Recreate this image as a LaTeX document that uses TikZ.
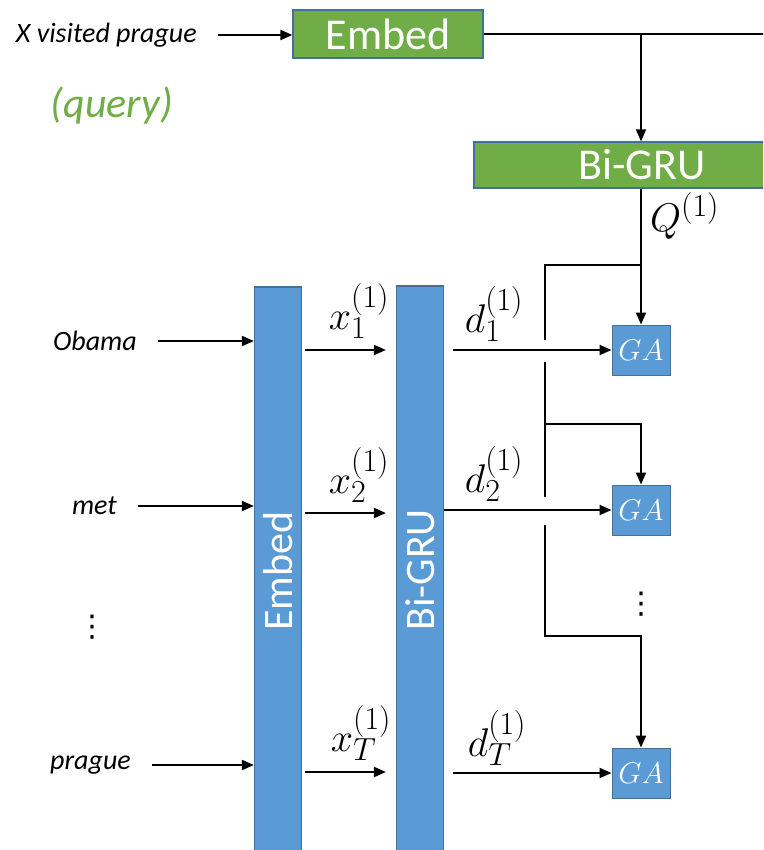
\RequirePackage{fix-cm}
\documentclass[tikz,border=0pt]{standalone}
\usepackage{fontspec}
\setmainfont{Carlito}
\newfontfamily\dejavu{DejaVu Sans}
\DeclareMathSizes{40}{40}{32}{26}
\usetikzlibrary{positioning,arrows.meta,calc}

\definecolor{gafill}{HTML}{5B9BD5}
\definecolor{grfill}{HTML}{70AD47}
\definecolor{boxedge}{HTML}{41719C}

\begin{document}
\begin{tikzpicture}[x=1pt, y=-1pt,
  gbox/.style={draw=boxedge, line width=1.2pt, fill=grfill, text=white, inner sep=0pt, font=\fontsize{44}{48}\selectfont},
  bar/.style={draw=boxedge, line width=1.2pt, fill=gafill, inner sep=0pt, minimum width=47pt, minimum height=568pt},
  barlbl/.style={rotate=90, text=white, font=\fontsize{42}{46}\selectfont},
  gabox/.style={draw=boxedge, line width=1pt, fill=gafill, text=white, inner sep=0pt, minimum width=58pt, minimum height=50pt, font=\fontsize{30}{34}\selectfont},
  word/.style={inner sep=1pt, font=\fontsize{28}{32}\selectfont\itshape},
  lbl/.style={inner sep=0pt, font=\fontsize{40}{44}\selectfont},
  vdot/.style={inner sep=0pt, font=\fontsize{30}{34}\selectfont\dejavu},
  arr/.style={-{Triangle[length=12pt, width=10pt]}, line width=2pt},
  ln/.style={line width=2pt}
]
\clip (0,0) rectangle (763,850);
% query side
\node[word, anchor=east] (qtxt) at (198,35) {X visited prague};
\node[word, text=grfill, font=\fontsize{42}{46}\selectfont\itshape] (qname) at (112,106) {(query)};
\node[gbox, minimum width=190pt, minimum height=48pt] (qemb) at (388,34) {Embed};
\node[gbox, minimum width=336pt, minimum height=46pt] (qgru) at (642,165) {Bi-GRU};
\node[lbl, anchor=west] (qlbl) at (650,216) {$Q^{(1)}$};
% document side
\node[bar, label={[barlbl]center:Embed}] (emb) at (278,571) {};
\node[bar, label={[barlbl]center:Bi-GRU}] (gru) at (420,570) {};
\node[word, anchor=east] (w1) at (138,341) {Obama};
\node[word, anchor=east] (w2) at (118,506) {met};
\node[word, anchor=east] (w3) at (132,765) {prague};
\node[vdot] (wdots) at (92,627) {⋮};
\node[gabox] (ga1) at (641,350) {$GA$};
\node[gabox] (ga2) at (641,510) {$GA$};
\node[gabox] (ga3) at (641,773) {$GA$};
\node[vdot] (gadots) at (641,604) {⋮};
% labels
\node[lbl] (x1) at (359,311) {$x_1^{(1)}$};
\node[lbl] (x2) at (359,475) {$x_2^{(1)}$};
\node[lbl] (xT) at (361,733) {$x_T^{(1)}$};
\node[lbl] (d1) at (494,314) {$d_1^{(1)}$};
\node[lbl] (d2) at (494,474) {$d_2^{(1)}$};
\node[lbl] (dT) at (497,738) {$d_T^{(1)}$};
% points on the lines
\coordinate (qend) at (770,34);
\coordinate (qsplit) at (641,34);
\coordinate (qbr) at (641,265);
\coordinate (rtop) at (545,265);
\coordinate (gapA) at (545,340);
\coordinate (gapB) at (545,362);
\coordinate (br2) at (545,424);
\coordinate (gapC) at (545,497);
\coordinate (gapD) at (545,525);
\coordinate (bend) at (545,636);
\coordinate (r1) at (0,350);
\coordinate (r2) at (0,513);
\coordinate (r3) at (0,772);
\coordinate (d1s) at (453,350);
\coordinate (d3s) at (453,773);
% query arrows
\draw[arr, shorten <=20pt] (qtxt.east) -- (qemb.west |- qtxt.east);
\draw[ln] (qemb.east) -- (qend);
\draw[arr, line width=1.5pt] (qsplit) -- (qgru.north -| qsplit);
\draw[arr] (qgru.south -| qsplit) -- (ga1.north);
\draw[ln] (qbr) -- (rtop) -- (gapA);
\draw[ln] (gapB) -- (gapC);
\draw[arr] (br2) -| (ga2.north);
\draw[arr] (gapD) -- (bend) -| (ga3.north);
% word arrows
\foreach \w in {w1,w2,w3} \draw[arr, shorten <=20pt] (\w.east) -- (emb.west |- \w.east);
\foreach \r in {r1,r2,r3} \draw[arr, shorten <=3pt, shorten >=10pt] (emb.east |- \r) -- (gru.west |- \r);
% gru to GA
\draw[arr] (d1s) -- (ga1.west);
\draw[arr] (gru.east |- ga2.west) -- (ga2.west);
\draw[arr] (d3s) -- (ga3.west);
\end{tikzpicture}
\end{document}
